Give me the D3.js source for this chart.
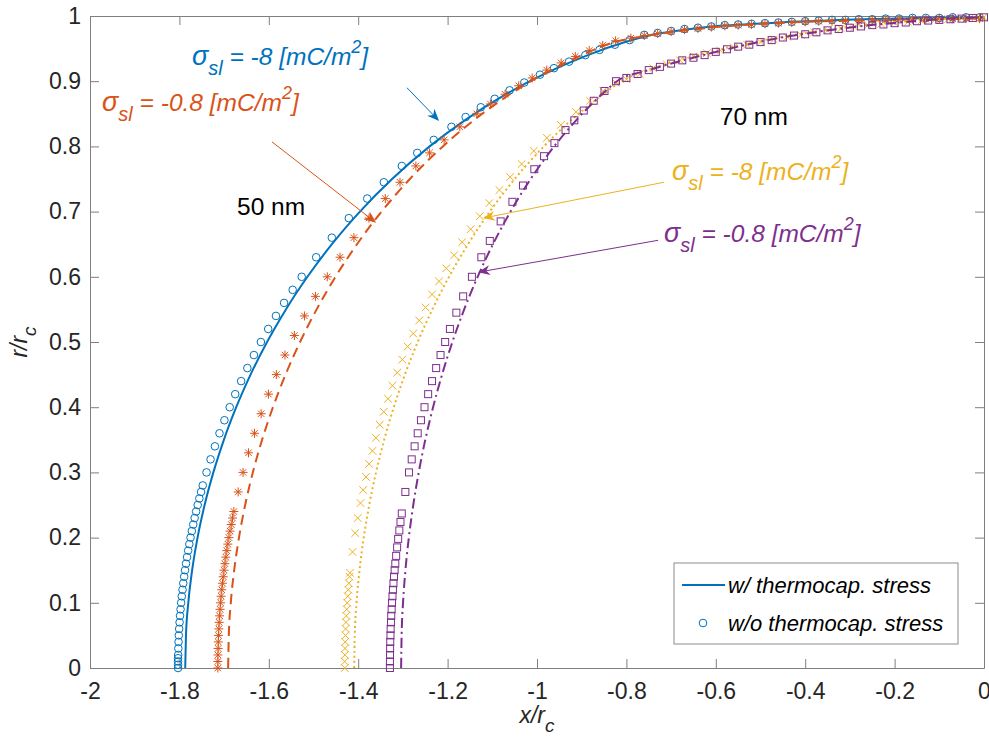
<!DOCTYPE html>
<html>
<head>
<meta charset="utf-8">
<script src="https://cdn.jsdelivr.net/npm/d3@7"></script>
<style>
  body { margin: 0; background: #fff; }
  svg text { font-family: "Liberation Sans", Arial, sans-serif; }
</style>
</head>
<body>
<div id="chart"></div>
<script>
// GLOBAL VARIABLES FOR LAYOUT
const svgWidth = 989;
const svgHeight = 744;
const plotLeft = 90;
const plotRight = 984;
const plotTop = 16;
const plotBottom = 668;
const tickFontSize = 23;
const labelFontSize = 24.5;
const legendFontSize = 22;

// MATLAB default colours
const blue = "#0072BD";
const orange = "#D95319";
const yellow = "#EDB120";
const purple = "#7E2F8E";
const axisColor = "#7f7f7f";
const textColor = "#262626";

// TICKS
const xTicks = [-2, -1.8, -1.6, -1.4, -1.2, -1, -0.8, -0.6, -0.4, -0.2, 0];
const xTickLabels = ["-2", "-1.8", "-1.6", "-1.4", "-1.2", "-1", "-0.8", "-0.6", "-0.4", "-0.2", "0"];
const yTicks = [0, 0.1, 0.2, 0.3, 0.4, 0.5, 0.6, 0.7, 0.8, 0.9, 1];
const yTickLabels = ["0", "0.1", "0.2", "0.3", "0.4", "0.5", "0.6", "0.7", "0.8", "0.9", "1"];

// DATA: [x/rc, r/rc]
// 50 nm, sigma = -8, with thermocapillary stress (solid line)
const blueLine = [[-1.787,0],[-1.7853,0.05],[-1.7801,0.1],[-1.7715,0.15],[-1.7594,0.2],[-1.7436,0.25],[-1.7240,0.3],[-1.7005,0.35],[-1.6729,0.4],[-1.6408,0.45],[-1.6039,0.5],[-1.5617,0.55],[-1.5136,0.6],[-1.4588,0.65],[-1.3962,0.7],[-1.3242,0.75],[-1.2402,0.8],[-1.1617,0.84],[-1.0693,0.88],[-0.9868,0.91],[-0.8864,0.94],[-0.8028,0.96],[-0.75,0.970],[-0.67,0.979],[-0.59,0.985],[-0.51,0.988],[-0.43,0.991],[-0.35,0.993],[-0.27,0.995],[-0.19,0.996],[-0.11,0.997],[0,0.998]];

// 50 nm, sigma = -8, without thermocapillary stress (circles)
const blueObs = [[-1.803,0],[-1.803,0.005],[-1.803,0.01],[-1.803,0.015],[-1.8027,0.02],[-1.8024,0.03],[-1.8019,0.04],[-1.8013,0.05],[-1.8005,0.06],[-1.7996,0.07],[-1.7986,0.08],[-1.7974,0.09],[-1.7961,0.10],[-1.7946,0.11],[-1.7930,0.12],[-1.7913,0.13],[-1.7894,0.14],[-1.7874,0.15],[-1.7852,0.16],[-1.7829,0.17],[-1.7804,0.18],[-1.7778,0.19],[-1.7751,0.20],[-1.7722,0.21],[-1.7691,0.22],[-1.7659,0.23],[-1.7626,0.24],[-1.7591,0.25],[-1.7554,0.26],[-1.7516,0.27],[-1.7477,0.28],[-1.7393,0.30],[-1.7303,0.32],[-1.7206,0.34],[-1.7103,0.36],[-1.6993,0.38],[-1.6875,0.40],[-1.6751,0.42],[-1.6619,0.44],[-1.6480,0.46],[-1.6333,0.48],[-1.6177,0.50],[-1.6013,0.52],[-1.5840,0.54],[-1.5658,0.56],[-1.5466,0.58],[-1.5264,0.60],[-1.4940,0.63],[-1.4590,0.66],[-1.4210,0.69],[-1.3798,0.72],[-1.3426,0.745],[-1.3024,0.77],[-1.2679,0.79],[-1.2310,0.81],[-1.1914,0.83],[-1.1596,0.845],[-1.1257,0.86],[-1.0946,0.873],[-1.0613,0.886],[-1.0285,0.898],[-0.9934,0.91],[-0.9620,0.92],[-0.9283,0.93],[-0.8918,0.94],[-0.8602,0.948],[-0.8257,0.956],[-0.7927,0.963],[-0.76,0.971],[-0.73,0.974],[-0.70,0.977],[-0.67,0.980],[-0.64,0.982],[-0.61,0.984],[-0.58,0.986],[-0.55,0.987],[-0.52,0.988],[-0.49,0.989],[-0.46,0.990],[-0.43,0.991],[-0.40,0.992],[-0.37,0.993],[-0.34,0.994],[-0.31,0.994],[-0.28,0.995],[-0.25,0.995],[-0.22,0.996],[-0.19,0.996],[-0.16,0.997],[-0.13,0.997],[-0.10,0.997],[-0.07,0.998],[-0.04,0.998],[-0.01,0.998]];

// 50 nm, sigma = -0.8 (dashed line / asterisks)
const orangeLine = [[-1.691,0],[-1.6895,0.05],[-1.6850,0.1],[-1.6774,0.15],[-1.6667,0.2],[-1.6529,0.25],[-1.6357,0.3],[-1.6150,0.35],[-1.5907,0.4],[-1.5625,0.45],[-1.5301,0.5],[-1.4930,0.55],[-1.4508,0.6],[-1.4027,0.65],[-1.3477,0.7],[-1.2844,0.75],[-1.2106,0.8],[-1.1417,0.84],[-1.0604,0.88],[-0.9879,0.91],[-0.8997,0.94],[-0.8263,0.96],[-0.76,0.969],[-0.68,0.977],[-0.60,0.983],[-0.52,0.987],[-0.44,0.990],[-0.36,0.992],[-0.28,0.993],[-0.20,0.994],[-0.12,0.995],[0,0.996]];

const orangeObs = [[-1.714,0],[-1.7139,0.01],[-1.7138,0.02],[-1.7134,0.03],[-1.7130,0.04],[-1.7125,0.05],[-1.7118,0.06],[-1.7110,0.07],[-1.7101,0.08],[-1.7090,0.09],[-1.7079,0.10],[-1.7066,0.11],[-1.7052,0.12],[-1.7036,0.13],[-1.7019,0.14],[-1.7002,0.15],[-1.6982,0.16],[-1.6962,0.17],[-1.6940,0.18],[-1.6917,0.19],[-1.6893,0.20],[-1.6867,0.21],[-1.6840,0.22],[-1.6812,0.23],[-1.6782,0.24],[-1.6685,0.27],[-1.6576,0.30],[-1.6454,0.33],[-1.6319,0.36],[-1.6171,0.39],[-1.6008,0.42],[-1.5831,0.45],[-1.5638,0.48],[-1.5428,0.51],[-1.5202,0.54],[-1.4957,0.57],[-1.4692,0.60],[-1.4406,0.63],[-1.4096,0.66],[-1.3759,0.69],[-1.3394,0.72],[-1.3065,0.745],[-1.2710,0.77],[-1.2404,0.79],[-1.2078,0.81],[-1.1727,0.83],[-1.1348,0.85],[-1.1042,0.865],[-1.0714,0.88],[-1.0409,0.893],[-1.0107,0.905],[-0.9782,0.917],[-0.9460,0.928],[-0.9143,0.938],[-0.8832,0.947],[-0.8530,0.955],[-0.8242,0.962],[-0.79,0.966],[-0.76,0.970],[-0.73,0.973],[-0.70,0.976],[-0.67,0.979],[-0.64,0.981],[-0.61,0.983],[-0.58,0.985],[-0.55,0.986],[-0.52,0.987],[-0.49,0.988],[-0.46,0.989],[-0.43,0.990],[-0.40,0.991],[-0.37,0.992],[-0.34,0.992],[-0.31,0.993],[-0.28,0.993],[-0.25,0.994],[-0.22,0.994],[-0.19,0.995],[-0.16,0.995],[-0.13,0.995],[-0.10,0.996],[-0.07,0.996],[-0.04,0.996],[-0.01,0.996]];

// 70 nm, sigma = -8 (dotted line / crosses)
const yellowLine = [[-1.409,0],[-1.4077,0.05],[-1.4037,0.1],[-1.3970,0.15],[-1.3876,0.2],[-1.3753,0.25],[-1.3601,0.3],[-1.3419,0.35],[-1.3204,0.4],[-1.2955,0.45],[-1.2669,0.5],[-1.2341,0.55],[-1.1968,0.6],[-1.1543,0.65],[-1.1057,0.7],[-1.0498,0.75],[-0.9846,0.8],[-0.9237,0.84],[-0.8519,0.88],[-0.8105,0.9],[-0.74,0.92],[-0.64,0.94],[-0.55,0.955],[-0.46,0.967],[-0.37,0.977],[-0.28,0.985],[-0.19,0.991],[-0.10,0.995],[0,0.998]];

const yellowObs = [[-1.430,0],[-1.4300,0.01],[-1.4298,0.02],[-1.4295,0.03],[-1.4291,0.04],[-1.4286,0.05],[-1.4281,0.06],[-1.4273,0.07],[-1.4265,0.08],[-1.4256,0.09],[-1.4246,0.10],[-1.4234,0.11],[-1.4222,0.12],[-1.4208,0.13],[-1.4193,0.14],[-1.4184,0.146],[-1.4127,0.178],[-1.4066,0.207],[-1.4010,0.23],[-1.3948,0.253],[-1.3889,0.273],[-1.3825,0.293],[-1.3756,0.313],[-1.3682,0.333],[-1.3604,0.353],[-1.3519,0.373],[-1.3429,0.393],[-1.3334,0.413],[-1.3233,0.433],[-1.3126,0.453],[-1.3013,0.473],[-1.2894,0.493],[-1.2768,0.513],[-1.2635,0.533],[-1.2495,0.553],[-1.2348,0.573],[-1.2192,0.593],[-1.2029,0.613],[-1.1856,0.633],[-1.1675,0.653],[-1.1483,0.673],[-1.1281,0.693],[-1.1067,0.713],[-1.0840,0.733],[-1.0600,0.753],[-1.0344,0.773],[-1.0072,0.793],[-0.9780,0.813],[-0.9466,0.833],[-0.9127,0.853],[-0.8815,0.87],[-0.8518,0.885],[-0.8241,0.898],[-0.80,0.903],[-0.77,0.911],[-0.74,0.920],[-0.71,0.926],[-0.68,0.932],[-0.65,0.938],[-0.62,0.943],[-0.59,0.947],[-0.56,0.952],[-0.53,0.956],[-0.50,0.960],[-0.47,0.964],[-0.44,0.968],[-0.41,0.971],[-0.38,0.975],[-0.35,0.978],[-0.32,0.981],[-0.29,0.983],[-0.26,0.986],[-0.23,0.988],[-0.20,0.990],[-0.17,0.991],[-0.14,0.993],[-0.11,0.994],[-0.08,0.995],[-0.05,0.996],[-0.02,0.997],[0,0.998]];

// 70 nm, sigma = -0.8 (dash-dot line / squares)
const purpleLine = [[-1.304,0],[-1.3029,0.05],[-1.2997,0.1],[-1.2943,0.15],[-1.2867,0.2],[-1.2768,0.25],[-1.2646,0.3],[-1.2499,0.35],[-1.2325,0.4],[-1.2124,0.45],[-1.1893,0.5],[-1.1629,0.55],[-1.1328,0.6],[-1.0985,0.65],[-1.0593,0.7],[-1.0142,0.75],[-0.9616,0.8],[-0.9125,0.84],[-0.8546,0.88],[-0.8211,0.9],[-0.75,0.917],[-0.645,0.937],[-0.55,0.953],[-0.46,0.966],[-0.37,0.976],[-0.28,0.984],[-0.19,0.990],[-0.10,0.995],[0,0.998]];

const purpleObs = [[-1.329,0],[-1.329,0.01],[-1.3288,0.02],[-1.3286,0.03],[-1.3283,0.04],[-1.3278,0.05],[-1.3274,0.06],[-1.3267,0.07],[-1.3261,0.08],[-1.3252,0.09],[-1.3243,0.10],[-1.3233,0.11],[-1.3223,0.12],[-1.3211,0.13],[-1.3199,0.14],[-1.3185,0.15],[-1.3170,0.16],[-1.3151,0.172],[-1.3129,0.185],[-1.3106,0.198],[-1.3080,0.211],[-1.3054,0.224],[-1.3025,0.237],[-1.2945,0.27],[-1.2863,0.30],[-1.2803,0.32],[-1.2738,0.34],[-1.2669,0.36],[-1.2596,0.38],[-1.2517,0.40],[-1.2435,0.42],[-1.2348,0.44],[-1.2256,0.46],[-1.2158,0.48],[-1.2055,0.50],[-1.1948,0.52],[-1.1804,0.545],[-1.1652,0.57],[-1.1456,0.60],[-1.1245,0.63],[-1.1056,0.655],[-1.0813,0.685],[-1.0550,0.715],[-1.0314,0.74],[-1.0060,0.765],[-0.9842,0.785],[-0.9610,0.805],[-0.9362,0.825],[-0.9165,0.84],[-0.8954,0.855],[-0.8731,0.87],[-0.8490,0.885],[-0.8232,0.90],[-0.80,0.905],[-0.775,0.911],[-0.75,0.917],[-0.725,0.922],[-0.70,0.927],[-0.675,0.932],[-0.65,0.936],[-0.625,0.940],[-0.60,0.945],[-0.575,0.949],[-0.55,0.953],[-0.525,0.956],[-0.50,0.960],[-0.475,0.963],[-0.45,0.967],[-0.425,0.970],[-0.40,0.972],[-0.375,0.975],[-0.35,0.978],[-0.325,0.980],[-0.30,0.982],[-0.275,0.984],[-0.25,0.986],[-0.225,0.987],[-0.20,0.989],[-0.175,0.990],[-0.15,0.992],[-0.125,0.993],[-0.10,0.994],[-0.075,0.995],[-0.05,0.996],[-0.025,0.997],[0,0.998]];

// ---------------------------------------------------------------------------------
// SET-UP: SVG AND SCALES

const svg = d3.select("#chart")
    .append("svg")
    .attr("width", svgWidth)
    .attr("height", svgHeight);

const xScale = d3.scaleLinear().domain([-2, 0]).range([plotLeft, plotRight]);
const yScale = d3.scaleLinear().domain([0, 1]).range([plotBottom, plotTop]);

// ---------------------------------------------------------------------------------
// AXES (box with inward ticks, like MATLAB)

const xAxis = svg.append("g")
    .attr("transform", `translate(0,${plotBottom})`)
    .call(d3.axisBottom(xScale).tickValues(xTicks)
        .tickFormat((d, i) => xTickLabels[i])
        .tickSizeInner(-9).tickSizeOuter(0).tickPadding(15));

const yAxis = svg.append("g")
    .attr("transform", `translate(${plotLeft},0)`)
    .call(d3.axisLeft(yScale).tickValues(yTicks)
        .tickFormat((d, i) => yTickLabels[i])
        .tickSizeInner(-9).tickSizeOuter(0).tickPadding(9));

const topAxis = svg.append("g")
    .attr("transform", `translate(0,${plotTop})`)
    .call(d3.axisTop(xScale).tickValues(xTicks).tickFormat("")
        .tickSizeInner(-9).tickSizeOuter(0));

const rightAxis = svg.append("g")
    .attr("transform", `translate(${plotRight},0)`)
    .call(d3.axisRight(yScale).tickValues(yTicks).tickFormat("")
        .tickSizeInner(-9).tickSizeOuter(0));

[xAxis, yAxis, topAxis, rightAxis].forEach(function(a) {
    a.selectAll("path, line").attr("stroke", axisColor);
    a.selectAll("text")
        .attr("fill", textColor)
        .style("font-size", tickFontSize + "px");
});

// axis titles
const xTitle = svg.append("text")
    .attr("x", xScale(-1))
    .attr("y", 723)
    .attr("text-anchor", "middle")
    .attr("fill", textColor)
    .style("font-size", tickFontSize + "px")
    .style("font-style", "italic");
xTitle.append("tspan").text("x/r");
xTitle.append("tspan").attr("dy", 9).style("font-size", "19px").text("c");

const yTitle = svg.append("text")
    .attr("transform", `translate(27,${yScale(0.5)}) rotate(-90)`)
    .attr("text-anchor", "middle")
    .attr("fill", textColor)
    .style("font-size", tickFontSize + "px")
    .style("font-style", "italic");
yTitle.append("tspan").text("r/r");
yTitle.append("tspan").attr("dy", 9).style("font-size", "19px").text("c");

// ---------------------------------------------------------------------------------
// CURVES AND MARKERS

const lineGen = d3.line()
    .x(d => xScale(d[0]))
    .y(d => yScale(d[1]))
    .curve(d3.curveMonotoneX);

const starPath = "M-4.5,0H4.5M0,-4.5V4.5M-3.2,-3.2L3.2,3.2M-3.2,3.2L3.2,-3.2";
const crossPath = "M-3.8,-3.8L3.8,3.8M-3.8,3.8L3.8,-3.8";

function drawLine(data, color, dash) {
    svg.append("path")
        .datum(data)
        .attr("d", lineGen)
        .attr("fill", "none")
        .attr("stroke", color)
        .attr("stroke-width", 2)
        .attr("stroke-dasharray", dash);
}

function drawMarkers(data, color, type) {
    const g = svg.append("g");
    if (type === "circle") {
        g.selectAll("circle").data(data).join("circle")
            .attr("cx", d => xScale(d[0]))
            .attr("cy", d => yScale(d[1]))
            .attr("r", 3.8)
            .attr("fill", "none")
            .attr("stroke", color)
            .attr("stroke-width", 1);
    }
    else if (type === "square") {
        g.selectAll("rect").data(data).join("rect")
            .attr("x", d => xScale(d[0]) - 3.5)
            .attr("y", d => yScale(d[1]) - 3.5)
            .attr("width", 7)
            .attr("height", 7)
            .attr("fill", "none")
            .attr("stroke", color)
            .attr("stroke-width", 1);
    }
    else {
        g.selectAll("path").data(data).join("path")
            .attr("transform", d => `translate(${xScale(d[0])},${yScale(d[1])})`)
            .attr("d", type === "star" ? starPath : crossPath)
            .attr("fill", "none")
            .attr("stroke", color)
            .attr("stroke-width", 1);
    }
}

drawLine(blueLine, blue, null);
drawMarkers(blueObs, blue, "circle");
drawLine(orangeLine, orange, "10,6");
drawMarkers(orangeObs, orange, "star");
drawLine(yellowLine, yellow, "2,3");
drawMarkers(yellowObs, yellow, "cross");
drawLine(purpleLine, purple, "10,4,2,4");
drawMarkers(purpleObs, purple, "square");

// ---------------------------------------------------------------------------------
// ANNOTATIONS

// text positions in data units: [x, r]
const sigmaLabels = [
    {value: "-8", color: blue, pos: [-1.772, 0.925]},
    {value: "-0.8", color: orange, pos: [-1.973, 0.855]},
    {value: "-8", color: yellow, pos: [-0.698, 0.748]},
    {value: "-0.8", color: purple, pos: [-0.716, 0.654]}
];
const sizeLabels = [
    {text: "50 nm", pos: [-1.671, 0.695]},
    {text: "70 nm", pos: [-0.591, 0.833]}
];
// arrows: from -> to, in data units
const arrows = [
    {color: blue, from: [-1.291, 0.890], to: [-1.219, 0.839]},
    {color: orange, from: [-1.593, 0.807], to: [-1.360, 0.683]},
    {color: yellow, from: [-0.716, 0.745], to: [-1.121, 0.690]},
    {color: purple, from: [-0.729, 0.656], to: [-1.132, 0.607]}
];

sigmaLabels.forEach(function(d) {
    const t = svg.append("text")
        .attr("x", xScale(d.pos[0]))
        .attr("y", yScale(d.pos[1]))
        .attr("fill", d.color)
        .style("font-size", labelFontSize + "px")
        .style("font-style", "italic");
    t.append("tspan").style("font-size", "27px").text("\u03C3");
    t.append("tspan").attr("dy", 10).style("font-size", "20px").text("sl");
    t.append("tspan").attr("dy", -10).text(` = ${d.value} [mC/m`);
    t.append("tspan").attr("dy", -12).style("font-size", "18px").text("2");
    t.append("tspan").attr("dy", 12).text("]");
});

sizeLabels.forEach(function(d) {
    svg.append("text")
        .attr("x", xScale(d.pos[0]))
        .attr("y", yScale(d.pos[1]))
        .attr("fill", "#000")
        .style("font-size", labelFontSize + "px")
        .text(d.text);
});

arrows.forEach(function(d) {
    const x1 = xScale(d.from[0]), y1 = yScale(d.from[1]);
    const x2 = xScale(d.to[0]), y2 = yScale(d.to[1]);
    const len = Math.hypot(x2 - x1, y2 - y1);
    const ux = (x2 - x1) / len, uy = (y2 - y1) / len;
    const headLen = 12, headHalf = 5;
    svg.append("line")
        .attr("x1", x1).attr("y1", y1)
        .attr("x2", x2 - ux * headLen * 0.6).attr("y2", y2 - uy * headLen * 0.6)
        .attr("stroke", d.color)
        .attr("stroke-width", 1);
    const bx = x2 - ux * headLen, by = y2 - uy * headLen;
    const nx = x2 - ux * headLen * 0.7, ny = y2 - uy * headLen * 0.7;
    svg.append("path")
        .attr("d", `M${x2},${y2}L${bx - uy * headHalf},${by + ux * headHalf}L${nx},${ny}L${bx + uy * headHalf},${by - ux * headHalf}Z`)
        .attr("fill", d.color);
});

// ---------------------------------------------------------------------------------
// LEGEND

const legend = svg.append("g").attr("transform", "translate(674,563)");

legend.append("rect")
    .attr("width", 284)
    .attr("height", 81)
    .attr("fill", "#fff")
    .attr("stroke", "#8c8c8c")
    .attr("stroke-width", 1);

legend.append("line")
    .attr("x1", 8).attr("x2", 51)
    .attr("y1", 22).attr("y2", 22)
    .attr("stroke", blue)
    .attr("stroke-width", 2);

legend.append("circle")
    .attr("cx", 29).attr("cy", 60)
    .attr("r", 3.8)
    .attr("fill", "none")
    .attr("stroke", blue);

legend.selectAll("text.item")
    .data(["w/ thermocap. stress", "w/o thermocap. stress"])
    .join("text")
    .attr("class", "item")
    .attr("x", 54)
    .attr("y", (d, i) => 30 + i * 38)
    .attr("fill", "#000")
    .style("font-size", legendFontSize + "px")
    .style("font-style", "italic")
    .text(d => d);
</script>
</body>
</html>
